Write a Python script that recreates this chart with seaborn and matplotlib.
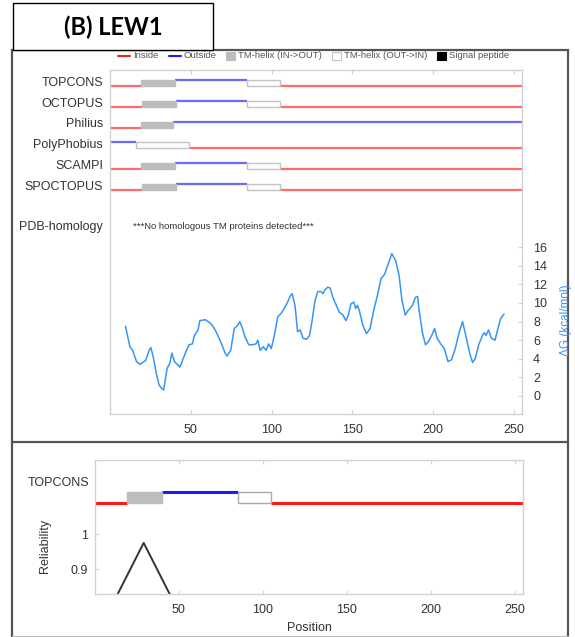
import numpy as np
import pandas as pd
import seaborn as sns
import matplotlib.pyplot as plt
from matplotlib.patches import Rectangle
from matplotlib.lines import Line2D
from matplotlib.transforms import blended_transform_factory

# Figure size in pixels
W, H = 575, 637

# Topology predictions: (state, start, end)
# i = inside, o = outside, M = TM-helix (IN->OUT), m = TM-helix (OUT->IN)
methods = ['TOPCONS', 'OCTOPUS', 'Philius', 'PolyPhobius', 'SCAMPI', 'SPOCTOPUS']
topcons = [('i', 0, 19), ('M', 19, 40), ('o', 40, 85), ('m', 85, 105), ('i', 105, 255)]
octopus = [('i', 0, 20), ('M', 20, 41), ('o', 41, 85), ('m', 85, 105), ('i', 105, 255)]
philius = [('i', 0, 19), ('M', 19, 39), ('o', 39, 255)]
polyphobius = [('o', 0, 16), ('m', 16, 49), ('i', 49, 255)]
scampi = [('i', 0, 19), ('M', 19, 40), ('o', 40, 85), ('m', 85, 105), ('i', 105, 255)]
spoctopus = [('i', 0, 20), ('M', 20, 41), ('o', 41, 85), ('m', 85, 105), ('i', 105, 255)]
topologies = [topcons, octopus, philius, polyphobius, scampi, spoctopus]

# Delta G profile (kcal/mol)
dg_pos = [9.6, 12.3, 14, 16.4, 18.6, 22, 24.2, 25.3, 27, 28.7, 30.3, 32, 33.2, 33.9,
          35.4, 37, 38.3, 39.9, 43.3, 46.6, 48.9, 51, 52.2, 54.5, 55.6, 59, 62.3,
          64.6, 66.8, 69, 71.3, 72.4, 74.7, 76.9, 79.1, 80.3, 81.8, 83.6, 85.9,
          88.1, 90.4, 91.5, 93, 94.8, 96.6, 98.2, 99.8, 101.6, 103.8, 106, 107.8,
          109.4, 111.7, 112.8, 114.6, 116.1, 117.7, 119.5, 121.7, 123.5, 125.1,
          126.7, 128.5, 130.3, 131.8, 133, 134.8, 136.3, 137.9, 139.7, 141.9,
          144.2, 146, 147.5, 149.1, 150.9, 152, 153.1, 154.3, 156.5, 158.7, 161,
          163.2, 165.5, 167.7, 170, 172.2, 174.4, 176.7, 178.9, 180.7, 182.7,
          184.5, 185.7, 187.2, 189, 190.4, 191.3, 193.5, 195.3, 196.9, 199.1,
          200.9, 202.5, 204.7, 206.9, 209.2, 211.4, 213.7, 215.9, 218.2, 220.4,
          222.6, 224.4, 226, 228.2, 230.5, 231.6, 232.7, 234.3, 236.1, 238.3,
          240.1, 241.7, 243.9]
dg_val = [7.5, 5.3, 4.9, 3.7, 3.4, 3.8, 4.9, 5.2, 4.0, 2.4, 1.2, 0.8, 0.65, 1.4,
          3.0, 3.5, 4.6, 3.7, 3.1, 4.6, 5.5, 5.6, 6.5, 7.1, 8.1, 8.2, 7.8,
          7.25, 6.5, 5.6, 4.6, 4.3, 4.9, 7.25, 7.6, 8.0, 7.35, 6.35, 5.5,
          5.5, 5.6, 6.0, 4.9, 5.3, 4.9, 5.6, 5.1, 6.4, 8.5, 8.9, 9.4,
          9.9, 10.8, 11.0, 9.6, 6.9, 7.1, 6.2, 6.1, 6.5, 8.1,
          10.1, 11.2, 11.25, 11.0, 11.4, 11.7, 11.6, 10.6, 9.9, 9.0,
          8.7, 8.1, 8.7, 9.9, 10.1, 9.4, 9.75, 9.2, 7.6, 6.7, 7.25,
          9.2, 10.8, 12.6, 13.1, 14.2, 15.3, 14.6, 13.0, 10.3, 8.7,
          9.2, 9.4, 9.75, 10.6, 10.7, 9.2, 6.7, 5.5, 5.8, 6.5,
          7.25, 6.2, 5.6, 5.1, 3.7, 3.9, 5.1, 6.7, 8.0, 6.35,
          4.6, 3.6, 4.0, 5.5, 6.5, 6.8, 6.5, 7.1, 6.2, 6.0,
          7.25, 8.3, 8.8]

# TOPCONS reliability
rel_pos = [5, 29, 53]
rel_val = [0.75, 0.975, 0.75]

x_ticks = [50, 100, 150, 200, 250]
dg_ticks = [0, 2, 4, 6, 8, 10, 12, 14, 16]
rel_ticks = [0.9, 1.0]
rel_ticklabels = ['0.9', '1']

sns.set_theme(style='white')
plt.rcParams['font.family'] = ['Liberation Sans', 'DejaVu Sans']

RED_LIGHT, BLUE_LIGHT = '#ff6a6a', '#6a6aff'
RED, BLUE = '#ff1a1a', '#1a1aff'
GRAY, EDGE = '#bdbdbd', '#c4c4c4'
FRAME = '#d2d2d2'
TXT = '#333333'
DG_COLOR = '#3795f5'


def fx(x):
    return x / W


def fy(y):
    return 1 - y / H


def draw_track(ax, segments, y_in, y_out, red, blue, lw, box_edge):
    for state, s, e in segments:
        if state == 'i':
            ax.plot([s, e], [y_in, y_in], color=red, lw=lw, solid_capstyle='butt')
        elif state == 'o':
            ax.plot([s, e], [y_out, y_out], color=blue, lw=lw, solid_capstyle='butt')
        else:
            fc = GRAY if state == 'M' else 'white'
            ec = GRAY if state == 'M' else box_edge
            ax.add_patch(Rectangle((s, y_in), e - s, y_out - y_in, fc=fc, ec=ec,
                                   lw=1.0, zorder=3))


fig = plt.figure(figsize=(W / 100, H / 100), dpi=100)

# outer frames
fig.add_artist(Rectangle((fx(12), fy(642)), fx(568) - fx(12), fy(50) - fy(642),
                         transform=fig.transFigure, fill=False, ec='#555555', lw=1.6))
fig.add_artist(Line2D([fx(12), fx(568)], [fy(442), fy(442)], transform=fig.transFigure,
                      color='#555555', lw=1.6))
fig.add_artist(Line2D([fx(12), fx(568)], [fy(636), fy(636)], transform=fig.transFigure,
                      color='#bbbbbb', lw=0.8))
fig.add_artist(Rectangle((fx(13), fy(50)), fx(213) - fx(13), fy(3) - fy(50),
                         transform=fig.transFigure, fc='white', ec='black', lw=1.0))
fig.text(fx(113), fy(27), '(B) LEW1', ha='center', va='center', fontsize=17,
         fontweight='bold', family=['Lato', 'DejaVu Sans'], color='black')

# legend
ly = fy(56)
legend_fs = 6.8
fig.add_artist(Line2D([fx(118), fx(130)], [ly, ly], transform=fig.transFigure, color=RED, lw=1.5))
fig.text(fx(133), ly, 'Inside', fontsize=legend_fs, va='center', color='#555555')
fig.add_artist(Line2D([fx(169), fx(181)], [ly, ly], transform=fig.transFigure, color=BLUE, lw=1.5))
fig.text(fx(184), ly, 'Outside', fontsize=legend_fs, va='center', color='#555555')
for x0, fc, ec, label in [(226, GRAY, GRAY, 'TM-helix (IN->OUT)'),
                          (332, 'white', EDGE, 'TM-helix (OUT->IN)'),
                          (437, 'black', 'black', 'Signal peptide')]:
    fig.add_artist(Rectangle((fx(x0), fy(60)), fx(9), fy(52) - fy(60),
                             transform=fig.transFigure, fc=fc, ec=ec, lw=0.8))
    fig.text(fx(x0 + 12), ly, label, fontsize=legend_fs, va='center', color='#555555')

# top panel
ax = fig.add_axes([fx(110), fy(414), fx(522) - fx(110), fy(70) - fy(414)])
ax.set_xlim(0, 255)
ax.set_ylim(-1.94, 35.05)

track_top, track_step, track_gap = 33.3, 2.23, 0.65
lbl_tr = blended_transform_factory(ax.transAxes, ax.transData)
for k, (name, segs) in enumerate(zip(methods, topologies)):
    y_in = track_top - k * track_step
    draw_track(ax, segs, y_in, y_in + track_gap, RED_LIGHT, BLUE_LIGHT, 1.6, EDGE)
    ax.text(-0.017, y_in + 0.35, name, transform=lbl_tr, ha='right', va='center',
            fontsize=9, color=TXT)

ax.text(-0.017, 18.2, 'PDB-homology', transform=lbl_tr, ha='right', va='center',
        fontsize=9, color=TXT)
ax.text(14, 18.2, '***No homologous TM proteins detected***', ha='left', va='center',
        fontsize=6.8, color=TXT)

dg_df = pd.DataFrame({'pos': dg_pos, 'dg': dg_val})
sns.lineplot(data=dg_df, x='pos', y='dg', ax=ax, color=DG_COLOR, lw=1.1,
             estimator=None, sort=False)
ax.set_xlabel('')
ax.set_ylabel('')
ax.set_xticks(x_ticks)
ax.set_yticks(dg_ticks)
ax.yaxis.tick_right()
ax.tick_params(axis='x', direction='in', length=3, width=0.8, color=FRAME,
               top=True, bottom=True, labelsize=9, labelcolor=TXT, pad=7)
ax.tick_params(axis='y', direction='in', length=3, width=0.8, color=FRAME,
               left=False, right=True, labelleft=False, labelright=True,
               labelsize=9, labelcolor=TXT, pad=8)
for sp in ax.spines.values():
    sp.set_color(FRAME)
    sp.set_linewidth(1.0)
fig.text(fx(566), fy(320), 'ΔG (kcal/mol)', rotation=90, ha='center', va='center',
         fontsize=8.5, color=DG_COLOR)

# bottom panel
ax2 = fig.add_axes([fx(95), fy(594), fx(523) - fx(95), fy(460) - fy(594)])
ax2.set_xlim(0, 255)
ax2.set_ylim(0.830, 1.21)
draw_track(ax2, topcons, 1.089, 1.119, RED, BLUE, 2.2, '#aaaaaa')
lbl_tr2 = blended_transform_factory(ax2.transAxes, ax2.transData)
ax2.text(-0.014, 1.146, 'TOPCONS', transform=lbl_tr2, ha='right', va='center',
         fontsize=9, color=TXT)

rel_df = pd.DataFrame({'pos': rel_pos, 'rel': rel_val})
sns.lineplot(data=rel_df, x='pos', y='rel', ax=ax2, color='#333333', lw=1.4,
             estimator=None, sort=False)
ax2.set_xlabel('')
ax2.set_ylabel('')
ax2.set_xticks(x_ticks)
ax2.set_yticks(rel_ticks)
ax2.set_yticklabels(rel_ticklabels)
ax2.tick_params(axis='x', direction='in', length=3, width=0.8, color=FRAME,
                top=True, bottom=True, labelsize=9, labelcolor=TXT, pad=7)
ax2.tick_params(axis='y', direction='in', length=3, width=0.8, color=FRAME,
                left=True, labelsize=9, labelcolor=TXT, pad=5)
for sp in ax2.spines.values():
    sp.set_color(FRAME)
    sp.set_linewidth(1.0)
fig.text(fx(45), fy(546), 'Reliability', rotation=90, ha='center', va='center',
         fontsize=9, color=TXT)
fig.text(fx(309), fy(628), 'Position', ha='center', va='center', fontsize=9, color=TXT)

fig.savefig('out.png', dpi=100)
